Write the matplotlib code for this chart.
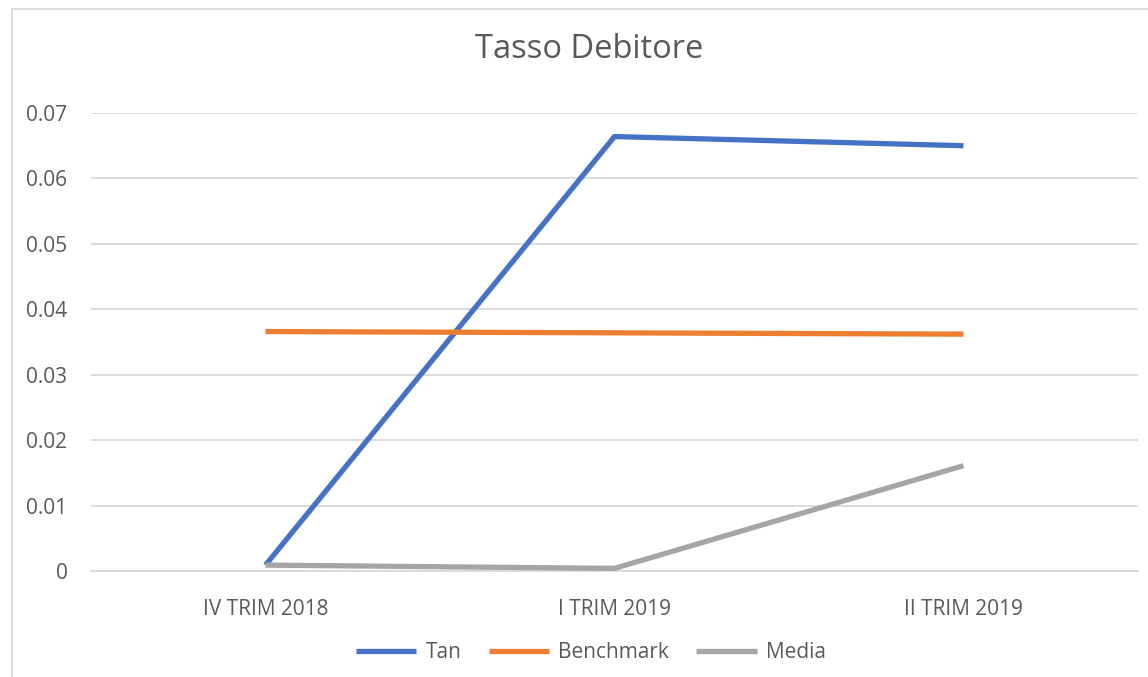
import matplotlib.pyplot as plt
from matplotlib.patches import Rectangle

# Quarterly debit rate: fund vs benchmark vs category average
quarters = ['IV TRIM 2018', 'I TRIM 2019', 'II TRIM 2019']
tan = [0.0009, 0.0664, 0.0650]
benchmark = [0.0366, 0.0364, 0.0362]
media = [0.0009, 0.0004, 0.0161]

plt.rcParams['font.family'] = ['Open Sans', 'DejaVu Sans']
text_color = '#595959'

fig = plt.figure(figsize=(11.48, 6.77), dpi=100)
ax = fig.add_axes([91 / 1148, 1 - 571 / 677, (1138 - 91) / 1148, (571 - 113) / 677])

x = range(len(quarters))
ax.plot(x, tan, color='#4472C4', lw=3.8, label='Tan', solid_capstyle='butt', zorder=3)
ax.plot(x, benchmark, color='#ED7D31', lw=3.8, label='Benchmark', solid_capstyle='butt', zorder=3)
ax.plot(x, media, color='#A5A5A5', lw=3.8, label='Media', solid_capstyle='butt', zorder=3)

ax.set_xlim(-0.5, 2.5)
ax.set_ylim(0, 0.07)
ax.set_yticks([0, 0.01, 0.02, 0.03, 0.04, 0.05, 0.06, 0.07])
ax.set_yticklabels(['0', '0.01', '0.02', '0.03', '0.04', '0.05', '0.06', '0.07'])
ax.set_xticks(list(x))
ax.set_xticklabels(quarters)
ax.tick_params(axis='both', length=0, labelsize=15, colors=text_color)
ax.tick_params(axis='y', pad=17)
ax.tick_params(axis='x', pad=20)

ax.grid(axis='y', color='#D9D9D9', lw=1.3)
ax.set_axisbelow(True)
for side in ['top', 'right', 'left']:
    ax.spines[side].set_visible(False)
ax.spines['bottom'].set_color('#D9D9D9')
ax.spines['bottom'].set_linewidth(1.3)

fig.text(589 / 1148, 1 - 49 / 677, 'Tasso Debitore', ha='center', va='center',
         fontsize=23.5, color=text_color)

fig.legend(loc='center', bbox_to_anchor=(591 / 1148, 1 - 653 / 677), ncol=3,
           frameon=False, fontsize=15, labelcolor=text_color, handlelength=2.9,
           columnspacing=1.3, handletextpad=0.45)

# outer chart border
fig.patches.append(Rectangle((12 / 1148, -0.05), 1.1, 1 - 9 / 677 + 0.05,
                             transform=fig.transFigure, fill=False,
                             edgecolor='#D9D9D9', lw=1.3))

fig.savefig('out.png', dpi=100)
